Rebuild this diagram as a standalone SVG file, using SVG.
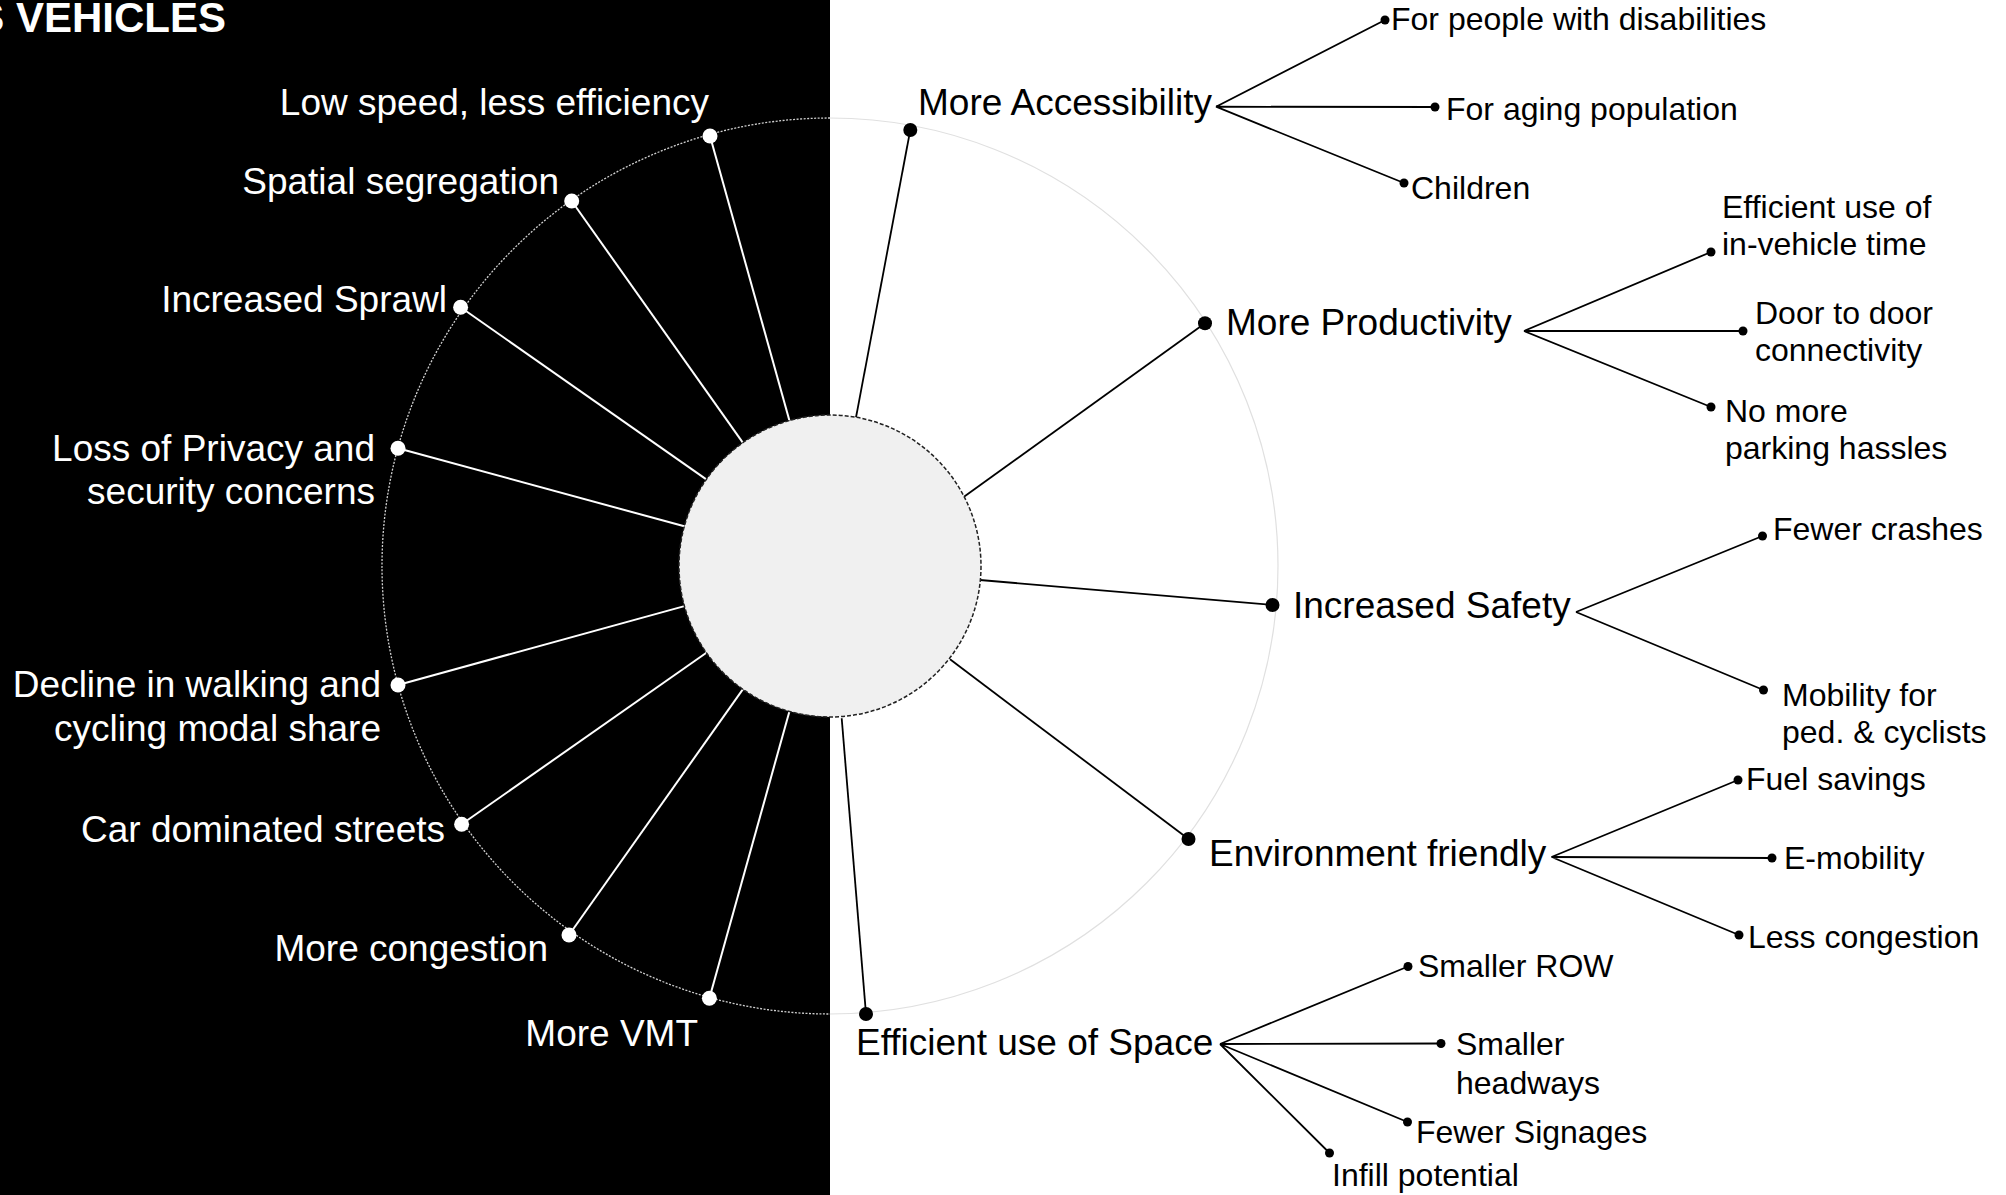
<svg xmlns="http://www.w3.org/2000/svg" width="2006" height="1195" viewBox="0 0 2006 1195">
<style>
.lt{font-family:"Liberation Sans",Arial,sans-serif;font-size:37px;fill:#fff;text-anchor:end}
.mt{font-family:"Liberation Sans",Arial,sans-serif;font-size:37px;fill:#000}
.st{font-family:"Liberation Sans",Arial,sans-serif;font-size:32px;fill:#000}
.wl{stroke:#fff;stroke-width:2;fill:none}
.bl{stroke:#000;stroke-width:1.8;fill:none}
.wd{fill:#fff}
.bd{fill:#000}
</style>
<rect x="0" y="0" width="830" height="1195" fill="#000"/>
<text x="226" y="32" font-family="Liberation Sans, Arial, sans-serif" font-size="42" font-weight="bold" fill="#fff" text-anchor="end">S VEHICLES</text>
<g id="outer-ring">
<path d="M830,118 A448,448 0 0 0 830,1014" fill="none" stroke="#d0d0d0" stroke-width="1.3" stroke-dasharray="2 1.5"/>
<path d="M830,118 A448,448 0 0 1 830,1014" fill="none" stroke="#e0e0e0" stroke-width="1.2"/>
</g>
<g id="connectors">
<line class="wl" x1="789.4" y1="420.5" x2="710" y2="136"/>
<line class="wl" x1="742.8" y1="442.7" x2="571.7" y2="201"/>
<line class="wl" x1="706.3" y1="479.4" x2="460.6" y2="307.3"/>
<line class="wl" x1="684.3" y1="526.3" x2="398" y2="448.3"/>
<line class="wl" x1="684.4" y1="606.1" x2="398" y2="685"/>
<line class="wl" x1="706.4" y1="652.7" x2="461.6" y2="824.3"/>
<line class="wl" x1="742.8" y1="689.3" x2="569" y2="935"/>
<line class="wl" x1="789.4" y1="711.4" x2="709.4" y2="998.3"/>
<line class="bl" x1="856" y1="417.3" x2="910.3" y2="130"/>
<line class="bl" x1="963.3" y1="497.3" x2="1205" y2="323.3"/>
<line class="bl" x1="980" y1="580" x2="1272.5" y2="605"/>
<line class="bl" x1="950" y1="659.3" x2="1188.5" y2="839"/>
<line class="bl" x1="841.7" y1="718.3" x2="866" y2="1014"/>
<path class="bl" d="M1216,106.7 L1385,20 M1216,106.7 L1435,107 M1216,106.7 L1404,183"/>
<path class="bl" d="M1524,331 L1711,252 M1524,331 L1743,331 M1524,331 L1711,407"/>
<path class="bl" d="M1576,612 L1762.5,536 M1576,612 L1763.5,690"/>
<path class="bl" d="M1551.5,857 L1738,780 M1551.5,857 L1772,858 M1551.5,857 L1739,935"/>
<path class="bl" d="M1220,1044 L1408,966.5 M1220,1044 L1441,1043.5 M1220,1044 L1407.5,1122 M1220,1044 L1329.5,1153"/>
</g>
<g id="hub">
<circle cx="830" cy="566" r="151" fill="#f0f0f0" stroke="#222" stroke-width="1.5" stroke-dasharray="4 2"/>
</g>
<g id="left-nodes">
<g id="low-speed"><circle class="wd" cx="710" cy="136" r="7.5"/><text class="lt" x="709" y="115">Low speed, less efficiency</text></g>
<g id="spatial-segregation"><circle class="wd" cx="571.7" cy="201" r="7.5"/><text class="lt" x="559" y="194">Spatial segregation</text></g>
<g id="increased-sprawl"><circle class="wd" cx="460.6" cy="307.3" r="7.5"/><text class="lt" x="447" y="312">Increased Sprawl</text></g>
<g id="loss-privacy"><circle class="wd" cx="398" cy="448.3" r="7.5"/><text class="lt" x="375" y="461">Loss of Privacy and</text><text class="lt" x="375" y="504">security concerns</text></g>
<g id="decline-walking"><circle class="wd" cx="398" cy="685" r="7.5"/><text class="lt" x="381" y="697">Decline in walking and</text><text class="lt" x="381" y="741">cycling modal share</text></g>
<g id="car-dominated"><circle class="wd" cx="461.6" cy="824.3" r="7.5"/><text class="lt" x="445" y="842">Car dominated streets</text></g>
<g id="more-congestion"><circle class="wd" cx="569" cy="935" r="7.5"/><text class="lt" x="548" y="961">More congestion</text></g>
<g id="more-vmt"><circle class="wd" cx="709.4" cy="998.3" r="7.5"/><text class="lt" x="698" y="1046">More VMT</text></g>
</g>
<g id="right-nodes">
<g id="accessibility"><circle class="bd" cx="910.3" cy="130" r="7"/><text class="mt" x="918" y="115">More Accessibility</text></g>
<g id="productivity"><circle class="bd" cx="1205" cy="323.3" r="7"/><text class="mt" x="1226" y="335">More Productivity</text></g>
<g id="safety"><circle class="bd" cx="1272.5" cy="605" r="7"/><text class="mt" x="1293" y="618">Increased Safety</text></g>
<g id="environment"><circle class="bd" cx="1188.5" cy="839" r="7"/><text class="mt" x="1209" y="866">Environment friendly</text></g>
<g id="space"><circle class="bd" cx="866" cy="1014" r="7"/><text class="mt" x="856" y="1055">Efficient use of Space</text></g>
</g>
<g id="sub-nodes">
<g id="disabilities"><circle class="bd" cx="1385" cy="20" r="4.5"/><text class="st" x="1391" y="30">For people with disabilities</text></g>
<g id="aging"><circle class="bd" cx="1435" cy="107" r="4.5"/><text class="st" x="1446" y="120">For aging population</text></g>
<g id="children"><circle class="bd" cx="1404" cy="183" r="4.5"/><text class="st" x="1411" y="199">Children</text></g>
<g id="in-vehicle"><circle class="bd" cx="1711" cy="252" r="4.5"/><text class="st" x="1722" y="218">Efficient use of</text><text class="st" x="1722" y="255">in-vehicle time</text></g>
<g id="door"><circle class="bd" cx="1743" cy="331" r="4.5"/><text class="st" x="1755" y="323.5">Door to door</text><text class="st" x="1755" y="360.5">connectivity</text></g>
<g id="parking"><circle class="bd" cx="1711" cy="407" r="4.5"/><text class="st" x="1725" y="422">No more</text><text class="st" x="1725" y="459">parking hassles</text></g>
<g id="crashes"><circle class="bd" cx="1762.5" cy="536" r="4.5"/><text class="st" x="1773" y="540">Fewer crashes</text></g>
<g id="mobility-ped"><circle class="bd" cx="1763.5" cy="690" r="4.5"/><text class="st" x="1782" y="706">Mobility for</text><text class="st" x="1782" y="743">ped. &amp; cyclists</text></g>
<g id="fuel"><circle class="bd" cx="1738" cy="780" r="4.5"/><text class="st" x="1746" y="790">Fuel savings</text></g>
<g id="e-mobility"><circle class="bd" cx="1772" cy="858" r="4.5"/><text class="st" x="1784" y="869">E-mobility</text></g>
<g id="less-congestion"><circle class="bd" cx="1739" cy="935" r="4.5"/><text class="st" x="1748" y="948">Less congestion</text></g>
<g id="row"><circle class="bd" cx="1408" cy="966.5" r="4.5"/><text class="st" x="1418" y="977">Smaller ROW</text></g>
<g id="headways"><circle class="bd" cx="1441" cy="1043.5" r="4.5"/><text class="st" x="1456" y="1055">Smaller</text><text class="st" x="1456" y="1094">headways</text></g>
<g id="signages"><circle class="bd" cx="1407.5" cy="1122" r="4.5"/><text class="st" x="1416" y="1143">Fewer Signages</text></g>
<g id="infill"><circle class="bd" cx="1329.5" cy="1153" r="4.5"/><text class="st" x="1332" y="1186">Infill potential</text></g>
</g>
</svg>
